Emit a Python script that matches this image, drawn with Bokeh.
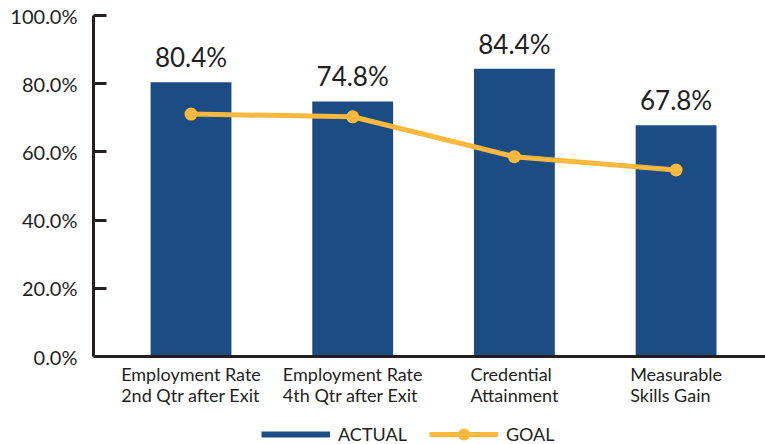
from bokeh.plotting import figure
from bokeh.models import (ColumnDataSource, Range1d, FixedTicker, Legend, LegendItem,
                          LabelSet, Span)
from bokeh.core.properties import value
from bokeh.embed import file_html
from bokeh.resources import INLINE

categories = ["Employment Rate\n2nd Qtr after Exit", "Employment Rate\n4th Qtr after Exit",
              "Credential\nAttainment", "Measurable\nSkills Gain"]
actual = [80.4, 74.8, 84.4, 67.8]
goal = [71.1, 70.3, 58.6, 54.7]
y_ticks = [0, 20, 40, 60, 80, 100]

BLUE = "#1B4D84"
ORANGE = "#FDB93D"
DARK = "#231F20"
FONT = "Lato"

xs = list(range(len(categories)))
src = ColumnDataSource(dict(
    x=xs, actual=actual, goal=goal, cat=categories,
    label=[f"{v:.1f}%" for v in actual],
))

p = figure(width=765, height=444, output_backend="svg", toolbar_location=None,
           x_range=Range1d(-0.603, 3.553), y_range=Range1d(-25.8, 100),
           min_border_left=93, min_border_right=0, min_border_top=15, min_border_bottom=0)
p.outline_line_color = None
p.grid.grid_line_color = None
p.background_fill_color = "white"
p.xaxis.visible = False

bars = p.vbar(x="x", top="actual", bottom=0, width=0.5, source=src,
              fill_color=BLUE, line_color=None)
gl = p.line(x="x", y="goal", source=src, line_color=ORANGE, line_width=5)
gs = p.scatter(x="x", y="goal", source=src, size=13, fill_color=ORANGE, line_color=None)
proxy = p.line(x="x", y="actual", source=src, line_color=BLUE, line_width=6, visible=False)

# category axis line at zero
p.add_layout(Span(location=0, dimension="width", line_color=DARK, line_width=3))

labels = LabelSet(x="x", y="actual", text="label", source=src, text_align="center",
                  text_baseline="bottom", y_offset=9, text_font=value(FONT),
                  text_font_size="26px", text_color=DARK)
p.add_layout(labels)

cat_labels = LabelSet(x="x", y=0, text="cat", source=src, text_align="center",
                      text_baseline="top", y_offset=-6, text_font=value(FONT),
                      text_font_size="18px", text_color=DARK, text_line_height=0.97)
p.add_layout(cat_labels)

# y axis
ya = p.yaxis[0]
ya.bounds = (0, 100)
ya.ticker = FixedTicker(ticks=y_ticks)
ya.major_label_overrides = {t: f"{t:.1f}%" for t in y_ticks}
ya.axis_line_color = DARK
ya.axis_line_width = 3
ya.major_tick_line_color = DARK
ya.major_tick_line_width = 3
ya.major_tick_in = 13
ya.major_tick_out = 0
ya.minor_tick_line_color = None
ya.major_label_text_font = FONT
ya.major_label_text_font_size = "20px"
ya.major_label_text_color = DARK
ya.major_label_standoff = 16

legend = Legend(items=[LegendItem(label="ACTUAL", renderers=[proxy]),
                       LegendItem(label="GOAL", renderers=[gl, gs])],
                orientation="horizontal", location=(168, -5),
                glyph_width=69, glyph_height=30, label_standoff=8, spacing=22,
                padding=0, margin=0, border_line_color=None, background_fill_alpha=0,
                label_text_font=FONT, label_text_font_size="18px", label_text_color=DARK)
p.add_layout(legend, "center")

open("out.html", "w").write(file_html(p, INLINE))
